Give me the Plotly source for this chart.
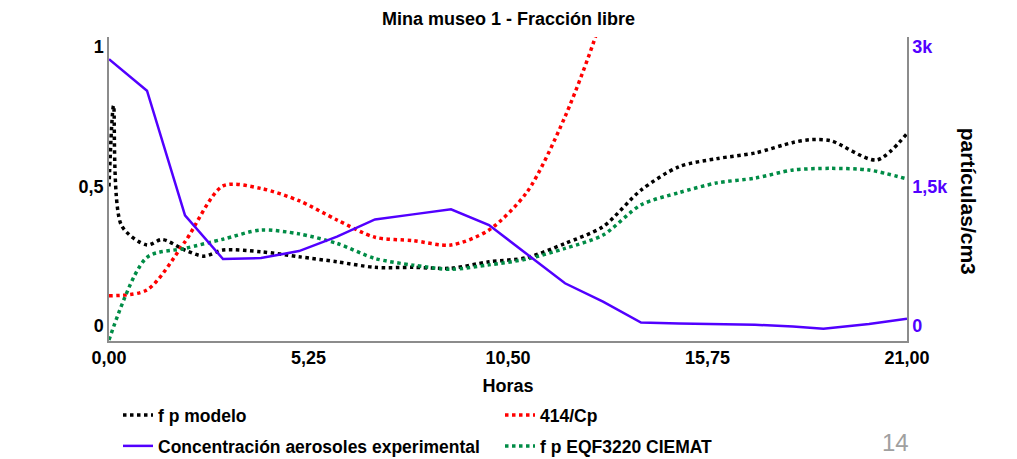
import plotly.graph_objects as go

# ---- data ----
hours_modelo = [0, 0.12, 0.33, 1.0, 1.4, 2.0, 2.5, 3.0, 4.0, 5.0, 6.0, 7.0, 8.0, 9.0, 10.0, 11.0, 12.0, 13.0, 14.0, 15.0, 16.0, 17.0, 18.0, 18.5, 19.0, 20.2, 21.0]
fp_modelo = [0.50, 0.79, 0.36, 0.29, 0.31, 0.272, 0.25, 0.272, 0.266, 0.248, 0.23, 0.21, 0.21, 0.207, 0.23, 0.245, 0.296, 0.356, 0.487, 0.571, 0.60, 0.62, 0.658, 0.668, 0.664, 0.595, 0.69]

hours_cp = [0, 1, 2, 3, 4, 5, 6, 7, 8, 9, 10, 11, 12, 13, 14]
cp_414 = [0.108, 0.129, 0.302, 0.502, 0.493, 0.449, 0.38, 0.318, 0.306, 0.29, 0.344, 0.48, 0.75, 1.12, 1.7]

hours_ciemat = [0, 1, 2, 3, 4, 5, 6, 7, 8, 9, 10, 11, 12, 13, 14, 15, 16, 17, 18, 19, 20, 21]
fp_ciemat = [-0.05, 0.246, 0.278, 0.311, 0.344, 0.33, 0.296, 0.242, 0.218, 0.203, 0.219, 0.24, 0.278, 0.326, 0.434, 0.478, 0.513, 0.53, 0.559, 0.565, 0.559, 0.527]

hours_conc = [0, 1, 2, 3, 4, 5, 6, 7, 8, 9, 10, 11, 12, 13, 14, 15, 16, 17, 18, 18.8, 20, 21]
conc_exp = [2870, 2530, 1190, 720, 730, 805, 960, 1146, 1200, 1255, 1085, 770, 459, 262, 36, 25, 20, 12, -5, -30, 20, 78]

x_ticks = [0, 5.25, 10.5, 15.75, 21]
y_left_ticks = [0, 0.5, 1]
y_left_text = ["0", "0,5", "1"]
y_right_ticks = [0, 1500, 3000]
y_right_text = ["0", "1,5k", "3k"]

FONT = "Liberation Sans Narrow, Arial Narrow, Liberation Sans, Arial, sans-serif"
PURPLE = "#5200FF"
GREEN = "#008C46"
RED = "#FF0000"

fig = go.Figure()
fig.add_trace(go.Scatter(x=hours_modelo, y=fp_modelo, mode="lines", name="f p modelo", legend="legend",
                         line=dict(color="black", width=3.5, dash="dot", shape="spline", smoothing=0.8)))
fig.add_trace(go.Scatter(x=hours_cp, y=cp_414, mode="lines", name="414/Cp", legend="legend",
                         line=dict(color=RED, width=3.5, dash="dot", shape="spline", smoothing=0.8)))
fig.add_trace(go.Scatter(x=hours_conc, y=conc_exp, mode="lines", name="Concentración aerosoles experimental",
                         yaxis="y2", legend="legend2", line=dict(color=PURPLE, width=2.5)))
fig.add_trace(go.Scatter(x=hours_ciemat, y=fp_ciemat, mode="lines", name="f p EQF3220 CIEMAT", legend="legend2",
                         line=dict(color=GREEN, width=3.5, dash="dot", shape="spline", smoothing=0.8)))

leg_common = dict(orientation="h", xanchor="left", yanchor="middle", xref="container", yref="container",
                  entrywidth=337, entrywidthmode="pixels", traceorder="normal", itemwidth=30,
                  bgcolor="rgba(0,0,0,0)",
                  font=dict(family=FONT, size=17.5, color="black", weight="bold"))

fig.update_layout(
    width=1017, height=459,
    margin=dict(l=109, r=110, t=37, b=118, autoexpand=False),
    paper_bgcolor="white", plot_bgcolor="white",
    separators=",.",
    font=dict(family=FONT, size=18, color="black", weight="bold"),
    title=dict(text="Mina museo 1 - Fracción libre", x=0.5, xanchor="center", y=0.96, yanchor="middle",
               font=dict(family=FONT, size=18, color="black", weight="bold")),
    xaxis=dict(range=[0, 21], tickvals=x_ticks, tickformat=".2f", showgrid=False, zeroline=False,
               showline=True, linecolor="#8c8c8c", linewidth=1.5, ticks="",
               tickfont=dict(family=FONT, size=18, color="black", weight="bold"),
               title=dict(text="Horas", standoff=12, font=dict(family=FONT, size=18, color="black", weight="bold"))),
    yaxis=dict(range=[-0.054, 1.036], tickvals=y_left_ticks, ticktext=y_left_text, showgrid=False,
               zeroline=False, showline=True, linecolor="#8c8c8c", linewidth=1.5, ticks="",
               tickfont=dict(family=FONT, size=18, color="black", weight="bold")),
    yaxis2=dict(range=[-162, 3108], tickvals=y_right_ticks, ticktext=y_right_text, overlaying="y",
                side="right", showgrid=False, zeroline=False, showline=True, linecolor="#8c8c8c",
                linewidth=1.5, ticks="", tickfont=dict(family=FONT, size=18, color=PURPLE, weight="bold")),
    legend=dict(leg_common, x=118 / 1017, y=1 - 415 / 459),
    legend2=dict(leg_common, x=118 / 1017, y=1 - 446 / 459),
    showlegend=True,
)

fig.add_annotation(text="partículas/cm3", xref="paper", yref="paper", x=1.077, y=0.46,
                   textangle=90, showarrow=False, xanchor="center", yanchor="middle",
                   font=dict(family=FONT, size=21, color="black", weight="bold"))
fig.add_annotation(text="14", xref="paper", yref="paper", x=0.985, y=-0.385, showarrow=False,
                   xanchor="center", yanchor="bottom",
                   font=dict(family=FONT, size=24, color="#a0a0a0", weight="normal"))

fig.write_html("out.html")
